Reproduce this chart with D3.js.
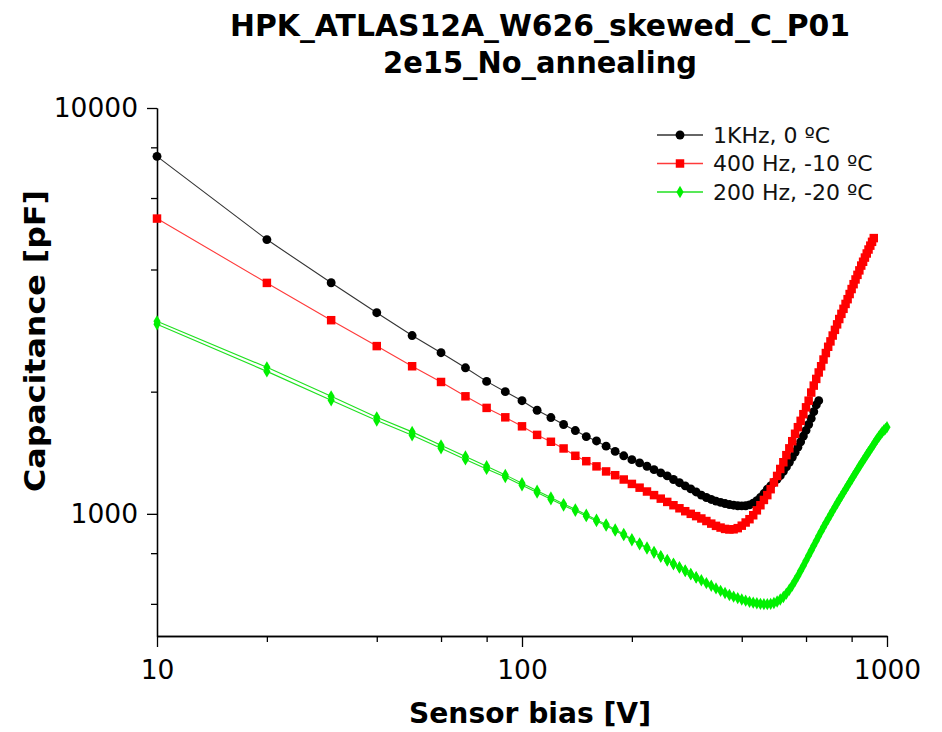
<!DOCTYPE html>
<html>
<head>
<meta charset="utf-8">
<script src="https://cdn.jsdelivr.net/npm/d3@7"></script>
<style>
  html, body { margin: 0; padding: 0; background: #fff; }
  svg text { font-family: "DejaVu Sans", sans-serif; }
</style>
</head>
<body>
<svg id="chart" width="942" height="732"></svg>
<script>
// ---------- DATA ----------
const titleLines = ["HPK_ATLAS12A_W626_skewed_C_P01", "2e15_No_annealing"];
const xLabel = "Sensor bias [V]";
const yLabel = "Capacitance [pF]";

const xMajorTicks = [10, 100, 1000];
const xMinorTicks = [20, 40, 60, 80, 200, 400, 600, 800];
const yMajorTicks = [1000, 10000];
const yMinorTicks = [600, 800, 2000, 4000, 6000, 8000];

const seriesNames = ["1KHz, 0 \u00baC", "400 Hz, -10 \u00baC", "200 Hz, -20 \u00baC"];

// bias voltage steps (V)
const biasVoltages = [
  10, 20, 30, 40, 50, 60, 70, 80, 90, 100,
  110, 120, 130, 140, 150, 160, 170, 180, 190, 200,
  210, 220, 230, 240, 250, 260, 270, 280, 290, 300,
  310, 320, 330, 340, 350, 360, 370, 380, 390, 400,
  410, 420, 430, 440, 450, 460, 470, 480, 490, 500,
  510, 520, 530, 540, 550, 560, 570, 580, 590, 600,
  610, 620, 630, 640, 650, 660, 670, 680, 690, 700,
  710, 720, 730, 740, 750, 760, 770, 780, 790, 800,
  810, 820, 830, 840, 850, 860, 870, 880, 890, 900,
  910, 920, 930, 940, 950, 960, 970, 980, 990, 1000
];

// capacitance (pF), one value per bias step
const cap1kHz0C = [
  7600, 4740, 3710, 3130, 2750, 2495, 2290, 2120, 2000, 1900,
  1800, 1727, 1660, 1604, 1550, 1512, 1468, 1425, 1390, 1360,
  1335, 1310, 1285, 1262, 1240, 1215, 1193, 1172, 1152, 1132,
  1112, 1097, 1085, 1075, 1067, 1060, 1054, 1050, 1047, 1046,
  1047, 1052, 1062, 1078, 1098, 1122, 1150, 1172, 1195, 1218,
  1242, 1272, 1305, 1340, 1378, 1418, 1460, 1505, 1555, 1605,
  1660, 1718, 1785, 1855, 1900
];

const cap400Hz10C = [
  5340, 3707, 3000, 2590, 2310, 2113, 1948, 1824, 1729, 1643,
  1565, 1505, 1449, 1390, 1348, 1309, 1272, 1245, 1215, 1185,
  1160, 1135, 1112, 1090, 1070, 1050, 1032, 1015, 1000, 987,
  974, 960, 946, 934, 925, 918, 915, 916, 922, 935,
  952, 970, 992, 1020, 1050, 1082, 1112, 1150, 1195, 1240,
  1290, 1340, 1395, 1450, 1510, 1575, 1635, 1695, 1760, 1830,
  1900, 1990, 2070, 2150, 2230, 2310, 2400, 2490, 2580, 2660,
  2750, 2840, 2930, 3020, 3110, 3200, 3290, 3380, 3480, 3580,
  3680, 3780, 3880, 3980, 4090, 4180, 4280, 4380, 4480, 4580,
  4680, 4780
];

const cap200Hz20C = [
  2981, 2296, 1948, 1729, 1592, 1475, 1385, 1310, 1247, 1190,
  1140, 1097, 1057, 1026, 995, 967, 942, 915, 892, 866,
  846, 826, 806, 787, 770, 754, 739, 725, 711, 698,
  686, 675, 665, 655, 646, 638, 631, 625, 620, 615,
  611, 607, 604, 602, 600, 599, 599, 600, 603, 608,
  615, 624, 636, 650, 666, 684, 703, 724, 745, 767,
  790, 812, 835, 858, 882, 905, 928, 950, 972, 995,
  1017, 1040, 1062, 1084, 1106, 1128, 1150, 1172, 1195, 1217,
  1240, 1262, 1285, 1308, 1330, 1352, 1374, 1396, 1418, 1440,
  1462, 1484, 1508, 1530, 1550, 1570, 1590, 1605, 1620, 1635
];

// second (repeated) low-bias sweep of the 200 Hz curve
const cap200Hz20CRepeat = [
  2932, 2244, 1905, 1698, 1562, 1450, 1362, 1290, 1232, 1176,
  1128, 1086, 1048, 1017, 987, 960, 935, 909, 886, 861,
  841, 821, 802, 784, 767, 751, 737, 723, 709, 697
];

const seriesColors = ["#000000", "#ff0000", "#00f000"];
const lineColors = ["#333333", "#ff3a3a", "#20e020"];

// ---------- LAYOUT ----------
const svg = d3.select("#chart");
const plot = { left: 157, right: 887, top: 108, bottom: 636 };

const x = d3.scaleLog().domain([10, 1000]).range([plot.left, plot.right]);
const y = d3.scaleLog().domain([500, 10000]).range([plot.bottom, plot.top]);

const toPoints = vals => vals.map((c, i) => ({ v: biasVoltages[i], c }));

const series = [
  { name: seriesNames[0], pts: toPoints(cap1kHz0C), shape: "circle", color: seriesColors[0], line: lineColors[0] },
  { name: seriesNames[1], pts: toPoints(cap400Hz10C), shape: "square", color: seriesColors[1], line: lineColors[1] },
  { name: seriesNames[2], pts: toPoints(cap200Hz20CRepeat), shape: "diamond", color: seriesColors[2], line: lineColors[2], noLegend: true },
  { name: seriesNames[2], pts: toPoints(cap200Hz20C), shape: "diamond", color: seriesColors[2], line: lineColors[2] }
];

const symbolFor = {
  circle: d3.symbol().type(d3.symbolCircle).size(62),
  square: d3.symbol().type(d3.symbolSquare).size(72),
  diamond: d3.symbol().type(d3.symbolDiamond).size(44)
};

// ---------- AXES ----------
const axisStyle = g => {
  g.selectAll("path.domain").attr("stroke", "#000").attr("stroke-width", 1.3);
  g.selectAll(".tick line").attr("stroke", "#000").attr("stroke-width", 1.3);
  g.selectAll(".tick text").attr("fill", "#000").style("font-size", "26.5px")
    .style("font-family", "'DejaVu Sans', sans-serif");
};

svg.append("g").attr("transform", `translate(0,${plot.bottom})`)
  .call(d3.axisBottom(x).tickValues(xMinorTicks).tickSize(6).tickFormat("").tickSizeOuter(0))
  .call(axisStyle);
svg.append("g").attr("transform", `translate(0,${plot.bottom})`)
  .call(d3.axisBottom(x).tickValues(xMajorTicks).tickSize(11).tickPadding(13).tickFormat(d3.format("d")).tickSizeOuter(0))
  .call(axisStyle);

svg.append("g").attr("transform", `translate(${plot.left},0)`)
  .call(d3.axisLeft(y).tickValues(yMinorTicks).tickSize(6).tickFormat("").tickSizeOuter(0))
  .call(axisStyle);
svg.append("g").attr("transform", `translate(${plot.left},0)`)
  .call(d3.axisLeft(y).tickValues(yMajorTicks).tickSize(10).tickPadding(9).tickFormat(d3.format("d")).tickSizeOuter(0))
  .call(axisStyle);

// ---------- SERIES ----------
const line = d3.line().x(d => x(d.v)).y(d => y(d.c));
series.forEach(s => {
  const g = svg.append("g");
  g.append("path").datum(s.pts).attr("d", line)
    .attr("fill", "none").attr("stroke", s.line).attr("stroke-width", 1.1);
  g.selectAll("path.m").data(s.pts).enter().append("path").attr("class", "m")
    .attr("transform", d => `translate(${x(d.v)},${y(d.c)})`)
    .attr("d", symbolFor[s.shape]())
    .attr("fill", s.color);
});

// ---------- LEGEND ----------
const legend = svg.append("g");
const legendSeries = series.filter(s => !s.noLegend);
legendSeries.forEach((s, i) => {
  const yy = 135 + i * 28.5;
  legend.append("line").attr("x1", 657).attr("x2", 703).attr("y1", yy).attr("y2", yy)
    .attr("stroke", s.line).attr("stroke-width", 1.3);
  legend.append("path").attr("transform", `translate(680,${yy})`)
    .attr("d", symbolFor[s.shape]()).attr("fill", s.color);
  legend.append("text").attr("x", 713).attr("y", yy).attr("dy", "0.36em")
    .style("font-size", "22px").attr("fill", "#111").text(s.name);
});

// ---------- TITLES ----------
const titleWidths = [620, 314];
titleLines.forEach((t, i) => {
  svg.append("text").attr("x", 540).attr("y", 36 + i * 37)
    .attr("text-anchor", "middle").style("font-size", "30px").style("font-weight", "bold")
    .attr("textLength", titleWidths[i]).attr("lengthAdjust", "spacingAndGlyphs")
    .text(t);
});

svg.append("text").attr("x", 530).attr("y", 723).attr("text-anchor", "middle")
  .style("font-size", "28px").style("font-weight", "bold")
  .attr("textLength", 242).attr("lengthAdjust", "spacingAndGlyphs").text(xLabel);

svg.append("text").attr("transform", "translate(45,341) rotate(-90)").attr("text-anchor", "middle")
  .style("font-size", "29px").style("font-weight", "bold")
  .attr("textLength", 302).attr("lengthAdjust", "spacingAndGlyphs").text(yLabel);
</script>
</body>
</html>
